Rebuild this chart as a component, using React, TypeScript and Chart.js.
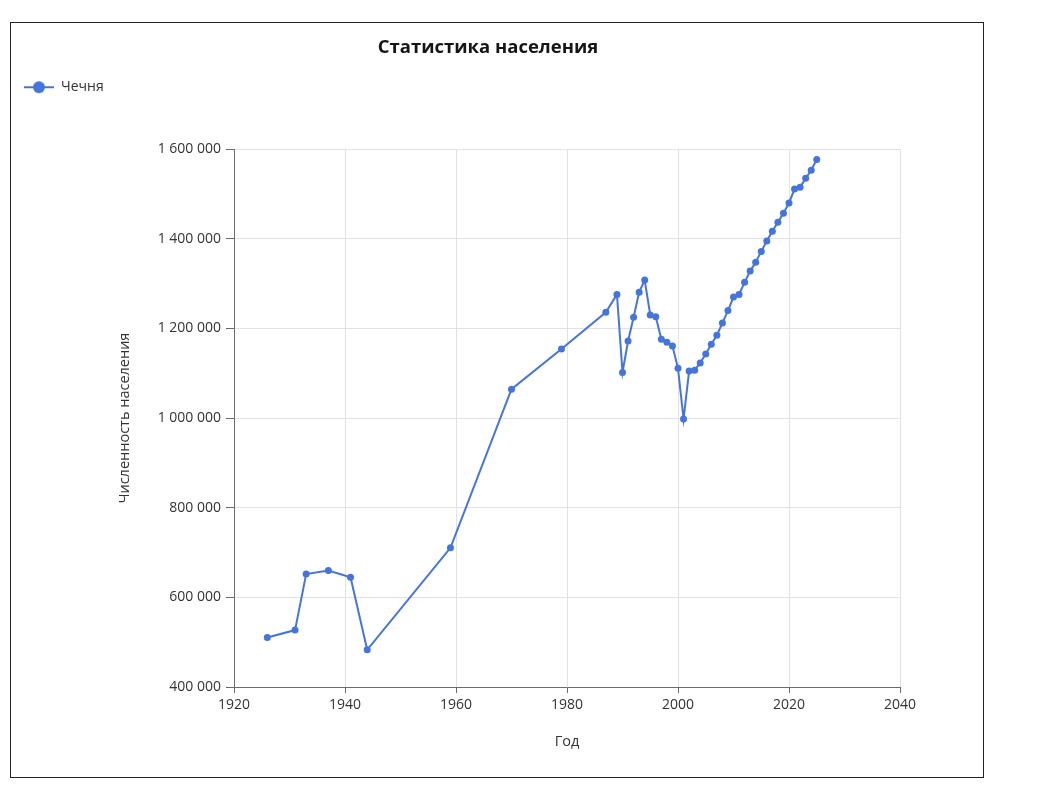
import { useEffect, useRef } from 'react';
import { Chart, registerables, type ChartConfiguration, type Plugin } from 'chart.js';

Chart.register(...registerables);

const years = [
  1926, 1931, 1933, 1937, 1941, 1944, 1959, 1970, 1979, 1987, 1989, 1990, 1991, 1992, 1993, 1994,
  1995, 1996, 1997, 1998, 1999, 2000, 2001, 2002, 2003, 2004, 2005, 2006, 2007, 2008, 2009, 2010,
  2011, 2012, 2013, 2014, 2015, 2016, 2017, 2018, 2019, 2020, 2021, 2022, 2023, 2024, 2025
];

const population = [
  510500, 527000, 652000, 660000, 645000, 483000, 710500, 1064500, 1154000, 1236000, 1276000,
  1102000, 1172000, 1225000, 1281000, 1308000, 1230000, 1226000, 1176000, 1169000, 1161000,
  1111000, 998000, 1105000, 1107000, 1123000, 1143000, 1165000, 1185000, 1212000, 1240000,
  1270000, 1276000, 1303000, 1328000, 1348000, 1372000, 1395000, 1417000, 1437000, 1457000,
  1480000, 1511000, 1515000, 1535000, 1553000, 1577000
];

const seriesName = 'Чечня';
const chartTitle = 'Статистика населения';
const xTitle = 'Год';
const yTitle = 'Численность населения';

const lineColor = '#4575dc';
const gridColor = '#e1e2e8';
const axisColor = '#6b6b6b';
const textColor = '#333333';

// number with space as thousands separator
const formatNumber = (v: number) => String(Math.round(v)).replace(/\B(?=(\d{3})+(?!\d))/g, ' ');

function legendMarker() {
  const c = document.createElement('canvas');
  c.width = 30;
  c.height = 14;
  const ctx = c.getContext('2d');
  if (ctx) {
    ctx.strokeStyle = lineColor;
    ctx.lineWidth = 2;
    ctx.beginPath();
    ctx.moveTo(0, 7);
    ctx.lineTo(30, 7);
    ctx.stroke();
    ctx.fillStyle = lineColor;
    ctx.beginPath();
    ctx.arc(15, 7, 6, 0, Math.PI * 2);
    ctx.fill();
  }
  return c;
}

// extra empty space under the legend, before the plot
const legendGap: Plugin<'line'> = {
  id: 'legendGap',
  beforeLayout(chart) {
    const legend = chart.legend as any;
    if (legend && !legend._gapPatched) {
      const fit = legend.fit.bind(legend);
      legend.fit = function () {
        fit();
        this.height += 45;
      };
      legend._gapPatched = true;
    }
  }
};

function PopulationChart() {
  const canvasRef = useRef<HTMLCanvasElement>(null);
  const chartRef = useRef<Chart | null>(null);

  useEffect(() => {
    const el = canvasRef.current;
    if (!el) {
      return;
    }

    Chart.defaults.font.family = "'Open Sans', sans-serif";
    Chart.defaults.color = textColor;

    const config: ChartConfiguration<'line', { x: number; y: number }[]> = {
      type: 'line',
      data: {
        datasets: [
          {
            label: seriesName,
            data: years.map((year, i) => ({ x: year, y: population[i] })),
            borderColor: lineColor,
            backgroundColor: lineColor,
            borderWidth: 2,
            pointRadius: 3.5,
            pointBackgroundColor: lineColor,
            pointBorderWidth: 0,
            tension: 0
          }
        ]
      },
      options: {
        animation: false,
        responsive: true,
        maintainAspectRatio: false,
        layout: {
          padding: { left: 3, right: 21, top: 0, bottom: 0 }
        },
        plugins: {
          title: {
            display: true,
            text: chartTitle,
            color: '#151515',
            font: { size: 18.5, weight: 'bold' },
            padding: { top: 14, bottom: 11 }
          },
          legend: {
            display: true,
            align: 'start',
            labels: {
              usePointStyle: true,
              pointStyle: legendMarker(),
              pointStyleWidth: 30,
              color: textColor,
              font: { size: 14 }
            }
          },
          tooltip: { enabled: false }
        },
        scales: {
          x: {
            type: 'linear',
            min: 1920,
            max: 2040,
            border: { color: axisColor, width: 1 },
            grid: { color: gridColor, tickColor: axisColor, tickLength: 6 },
            ticks: {
              stepSize: 20,
              padding: 4,
              color: textColor,
              font: { size: 14 },
              callback: value => String(value)
            },
            title: {
              display: true,
              text: xTitle,
              color: textColor,
              font: { size: 14.5 },
              padding: { top: 0, bottom: 26 }
            },
            afterFit: scale => {
              scale.height = 90;
              scale.paddingRight = 83;
            }
          },
          y: {
            min: 400000,
            max: 1600000,
            border: { color: axisColor, width: 1 },
            grid: { color: gridColor, tickColor: axisColor, tickLength: 8 },
            ticks: {
              stepSize: 200000,
              padding: 5,
              color: textColor,
              font: { size: 14 },
              callback: value => formatNumber(Number(value))
            },
            title: {
              display: true,
              text: yTitle,
              color: textColor,
              font: { size: 14.5 },
              padding: { top: 102, bottom: 0 }
            },
            afterFit: scale => {
              scale.width = 220;
            }
          }
        }
      },
      plugins: [legendGap]
    };

    chartRef.current = new Chart(el, config);

    return () => {
      chartRef.current?.destroy();
      chartRef.current = null;
    };
  }, []);

  return (
    <div style={{ position: 'relative', width: 972, height: 754 }}>
      <canvas ref={canvasRef} />
    </div>
  );
}

export default function App() {
  return (
    <div style={{ padding: '14px 0 0 2px' }}>
      <div style={{ width: 974, height: 756, boxSizing: 'border-box', border: '1px solid #222', background: '#fff' }}>
        <PopulationChart />
      </div>
    </div>
  );
}
